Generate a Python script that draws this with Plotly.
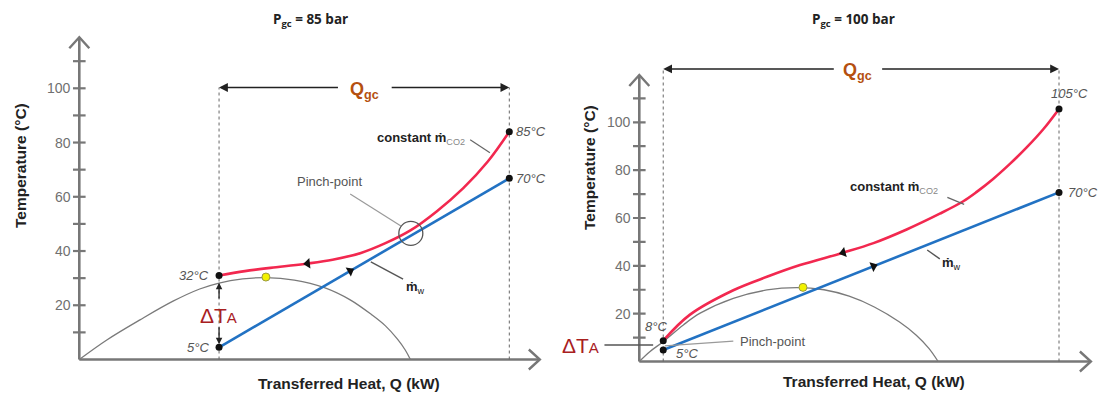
import plotly.graph_objects as go

# ---------------- data: left panel (P_gc = 85 bar) ----------------
L_TITLE = "P<sub>gc</sub> = 85 bar"
L_Q_IN, L_Q_OUT = 32.5, 100.0
L_CO2_Q = [32.5, 38.5, 46.7, 53.1, 58.9, 65.5, 71.2, 77.0, 83.1, 89.3, 95.0, 100.0]
L_CO2_T = [31.0, 32.6, 34.2, 35.4, 36.8, 39.3, 42.9, 47.6, 54.6, 63.2, 73.0, 84.0]
L_W_Q = [32.5, 100.0]
L_W_T = [4.5, 66.8]
L_DOME_Q = [0, 6.4, 14.1, 21.8, 28.0, 32.5, 38.0, 43.4, 50.0, 57.0, 63.0, 68.0, 71.2, 74.0, 75.8, 77.0]
L_DOME_T = [0, 7.2, 14.6, 21.5, 26.0, 28.2, 29.7, 30.2, 29.3, 26.5, 22.0, 16.5, 12.4, 7.5, 3.5, 0]
L_CRIT = (43.4, 30.4)
L_LABELS = ["32°C", "5°C", "85°C", "70°C"]
L_QGC_T = 100.3

# ---------------- data: right panel (P_gc = 100 bar) ----------------
R_TITLE = "P<sub>gc</sub> = 100 bar"
R_Q_IN, R_Q_OUT = 5.7, 100.0
R_CO2_Q = [5.7, 12.0, 22.4, 30.4, 38.3, 48.6, 55.8, 63.7, 71.6, 77.2, 80.4, 84.3, 88.3, 92.3, 96.3, 100.0]
R_CO2_T = [8.7, 19.5, 29.8, 35.4, 40.3, 45.5, 49.5, 55.2, 61.8, 67.0, 70.9, 76.3, 82.6, 89.5, 97.2, 105.6]
R_W_Q = [5.7, 100.0]
R_W_T = [4.8, 70.7]
R_DOME_Q = [0, 2.5, 5.7, 10.5, 14.5, 22.4, 30.4, 37.5, 44.0, 50.0, 56.0, 62.0, 66.0, 69.0, 71.2]
R_DOME_T = [0, 4.1, 8.3, 15.3, 20.2, 26.4, 29.9, 30.9, 30.0, 27.3, 22.8, 16.5, 11.0, 5.5, 0]
R_CRIT = (39.0, 31.0)
R_LABELS = ["8°C", "5°C", "105°C", "70°C"]
R_QGC_T = 122.3

TICKS = [10, 20, 30, 40, 50, 60, 70, 80, 90, 100, 110]
TICK_LABELS = [20, 40, 60, 80, 100]

# ---------------- styling / geometry ----------------
W, H = 1099, 394
RED = "#f2284f"
BLUE = "#2272c3"
AXC = "#777777"
FONT = "Liberation Sans"
SPLIT = 549.5

# pixel geometry of each panel: origin px, px per unit
GEOM = {
    "L": dict(x0=79.3, sx=4.30, y0=359.5, sy=2.712, d0=0.0, d1=SPLIT),
    "R": dict(x0=639.3, sx=4.197, y0=361.5, sy=2.392, d0=SPLIT, d1=W),
}

def ranges(g):
    xr = [(g["d0"] - g["x0"]) / g["sx"], (g["d1"] - g["x0"]) / g["sx"]]
    yr = [-(H - g["y0"]) / g["sy"], g["y0"] / g["sy"]]
    return xr, yr

fig = go.Figure()
annotations = []
shapes = []


def panel(key, xa, ya, title, q_in, q_out, co2_q, co2_t, w_q, w_t, dome_q, dome_t,
          crit, labels, qgc_t, opts):
    g = GEOM[key]
    dq = 1.0 / g["sx"]   # Q units per px
    dt = 1.0 / g["sy"]   # T units per px
    ax = dict(xaxis=xa, yaxis=ya)
    xr_ = "x" if xa == "x" else "x2"
    yr_ = "y" if ya == "y" else "y2"

    # axes lines
    ytip = opts["ytip"]
    xtip = opts["xtip"]
    fig.add_trace(go.Scatter(x=[0, 0], y=[0, ytip], mode="lines",
                             line=dict(color=AXC, width=2.6), hoverinfo="skip", **ax))
    fig.add_trace(go.Scatter(x=[0, xtip], y=[0, 0], mode="lines",
                             line=dict(color=AXC, width=2.6), hoverinfo="skip", **ax))
    # arrow chevrons
    fig.add_trace(go.Scatter(x=[-10 * dq, 0, 10 * dq], y=[ytip - 11 * dt, ytip, ytip - 11 * dt],
                             mode="lines", line=dict(color=AXC, width=2.4), hoverinfo="skip", **ax))
    fig.add_trace(go.Scatter(x=[xtip - 11 * dq, xtip, xtip - 11 * dq], y=[10 * dt, 0, -10 * dt],
                             mode="lines", line=dict(color=AXC, width=2.4), hoverinfo="skip", **ax))
    # ticks
    fig.add_trace(go.Scatter(x=[0] * len(TICKS), y=TICKS, mode="markers",
                             marker=dict(symbol="line-ew", size=9, line=dict(color=AXC, width=2.2)),
                             hoverinfo="skip", **ax))
    for v in TICK_LABELS:
        annotations.append(dict(x=-6 * dq, y=v, xref=xr_, yref=yr_, text=str(v), showarrow=False,
                                xanchor="right", yanchor="middle",
                                font=dict(family=FONT, size=14, color="#707070")))

    # dotted verticals (Q_gc limits)
    for qv in (q_in, q_out):
        fig.add_trace(go.Scatter(x=[qv, qv], y=[0, qgc_t], mode="lines",
                                 line=dict(color="#666", width=1, dash="dot"), hoverinfo="skip", **ax))

    # dome
    fig.add_trace(go.Scatter(x=dome_q, y=dome_t, mode="lines", line=dict(color="#7a7a7a", width=1.3, shape="spline"),
                             hoverinfo="skip", **ax))
    # water line
    fig.add_trace(go.Scatter(x=w_q, y=w_t, mode="lines", line=dict(color=BLUE, width=2.6),
                             hoverinfo="skip", **ax))
    # CO2 curve
    fig.add_trace(go.Scatter(x=co2_q, y=co2_t, mode="lines", line=dict(color=RED, width=2.6, shape="spline", smoothing=1.0),
                             hoverinfo="skip", **ax))
    # direction arrows
    fig.add_trace(go.Scatter(x=[opts["red_arrow"][0]], y=[opts["red_arrow"][1]], mode="markers",
                             marker=dict(symbol="triangle-left", size=9, color="#111", angle=opts["red_angle"]),
                             hoverinfo="skip", **ax))
    wa = opts["blue_arrow_q"]
    wt = w_t[0] + (w_t[1] - w_t[0]) * (wa - w_q[0]) / (w_q[1] - w_q[0])
    fig.add_trace(go.Scatter(x=[wa], y=[wt], mode="markers",
                             marker=dict(symbol="triangle-right", size=9, color="#111", angle=opts["blue_angle"]),
                             hoverinfo="skip", **ax))
    # critical point
    fig.add_trace(go.Scatter(x=[crit[0]], y=[crit[1]], mode="markers",
                             marker=dict(size=8, color="#f2f200", line=dict(color="#9a9a40", width=1)),
                             hoverinfo="skip", **ax))
    # end points
    fig.add_trace(go.Scatter(x=[co2_q[0], w_q[0], co2_q[-1], w_q[-1]],
                             y=[co2_t[0], w_t[0], co2_t[-1], w_t[-1]], mode="markers",
                             marker=dict(size=7, color="#111"), hoverinfo="skip", **ax))

    # title
    annotations.append(dict(x=opts["title_x"], y=1 - 20 / H, xref="paper", yref="paper", text="<b>" + title + "</b>",
                            showarrow=False, xanchor="center", yanchor="middle",
                            font=dict(family="Open Sans", size=13.5, color="#222")))
    # axis titles
    annotations.append(dict(x=opts["ytitle_px"][0] / W, y=1 - opts["ytitle_px"][1] / H, xref="paper", yref="paper",
                            text="<b>Temperature (°C)</b>", textangle=-90, showarrow=False,
                            xanchor="center", yanchor="middle",
                            font=dict(family=FONT, size=15.5, color="#222")))
    annotations.append(dict(x=opts["xtitle_px"][0] / W, y=1 - opts["xtitle_px"][1] / H, xref="paper", yref="paper",
                            text="<b>Transferred Heat, Q (kW)</b>", showarrow=False,
                            xanchor="center", yanchor="middle",
                            font=dict(family=FONT, size=15.5, color="#222")))

    # Q_gc arrows + label
    qc, gap = opts["qgc"]
    for tail, head in ((qc - gap, q_in), (qc + gap, q_out)):
        annotations.append(dict(x=head, y=qgc_t, ax=tail, ay=qgc_t, xref=xr_, yref=yr_, axref=xr_, ayref=yr_,
                                text="", showarrow=True, arrowhead=2, arrowsize=1.1, arrowwidth=1.6,
                                arrowcolor="#222"))
    annotations.append(dict(x=qc, y=qgc_t - 3 * dt, xref=xr_, yref=yr_, text="<b>Q<sub>gc</sub></b>",
                            showarrow=False, xanchor="center", yanchor="middle",
                            font=dict(family=FONT, size=18, color="#b5500f")))

    # temperature labels
    lab_font = dict(family=FONT, size=13, color="#555")
    for (txt, (lx, ly, anc)) in zip(labels, opts["label_pos"]):
        annotations.append(dict(x=lx, y=ly, xref=xr_, yref=yr_, text="<i>" + txt + "</i>", showarrow=False,
                                xanchor=anc, yanchor="middle", font=lab_font))

    # constant m_CO2 label + leader
    cx, cy = opts["co2_label"]
    annotations.append(dict(x=cx, y=cy, xref=xr_, yref=yr_,
                            text="<b>constant ṁ</b><sub><span style='color:#888'>CO2</span></sub>",
                            showarrow=False, xanchor="right", yanchor="middle",
                            font=dict(family=FONT, size=13, color="#222")))
    l0, l1 = opts["co2_leader"]
    fig.add_trace(go.Scatter(x=[l0[0], l1[0]], y=[l0[1], l1[1]], mode="lines",
                             line=dict(color="#666", width=1.2), hoverinfo="skip", **ax))
    # m_w label + leader
    mx, my = opts["w_label"]
    annotations.append(dict(x=mx, y=my, xref=xr_, yref=yr_, text="<b>ṁ</b><sub>w</sub>",
                            showarrow=False, xanchor="center", yanchor="middle",
                            font=dict(family=FONT, size=13, color="#222")))
    l0, l1 = opts["w_leader"]
    fig.add_trace(go.Scatter(x=[l0[0], l1[0]], y=[l0[1], l1[1]], mode="lines",
                             line=dict(color="#555", width=1.4), hoverinfo="skip", **ax))

    # pinch-point label + leader
    px_, py_, panc = opts["pinch_label"]
    annotations.append(dict(x=px_, y=py_, xref=xr_, yref=yr_, text="Pinch-point", showarrow=False,
                            xanchor=panc, yanchor="middle", font=dict(family=FONT, size=13, color="#555")))
    l0, l1 = opts["pinch_leader"]
    fig.add_trace(go.Scatter(x=[l0[0], l1[0]], y=[l0[1], l1[1]], mode="lines",
                             line=dict(color="#9a9a9a", width=1.2), hoverinfo="skip", **ax))

    # delta T_A label
    dx_, dy_, danc = opts["dta"]
    annotations.append(dict(x=dx_, y=dy_, xref=xr_, yref=yr_,
                            text="ΔT<span style='font-size:15px'>A</span>", showarrow=False,
                            xanchor=danc, yanchor="middle", font=dict(family=FONT, size=21, color="#a8201f")))


xrL, yrL = ranges(GEOM["L"])
xrR, yrR = ranges(GEOM["R"])

panel("L", "x", "y", L_TITLE, L_Q_IN, L_Q_OUT, L_CO2_Q, L_CO2_T, L_W_Q, L_W_T, L_DOME_Q, L_DOME_T,
      L_CRIT, L_LABELS, L_QGC_T,
      dict(ytip=118.8, xtip=107.1, red_arrow=(53.1, 35.4), red_angle=-6, blue_arrow_q=63.0, blue_angle=-30,
           title_x=310 / W, ytitle_px=(20, 166), xtitle_px=(349, 383), qgc=(66.4, 5.9),
           label_pos=[(30.6, 31.0, "right"), (30.6, 4.5, "right"), (101.2, 84.0, "left"), (101.2, 66.8, "left")],
           co2_label=(90.2, 81.6), co2_leader=((90.9, 81.0), (95.5, 76.2)),
           w_label=(78.3, 26.7), w_leader=((67.8, 36.0), (75.3, 29.6)),
           pinch_label=(58.1, 65.6, "center"), pinch_leader=((63.0, 61.0), (74.8, 49.2)),
           dta=(32.4, 16.4, "center")))

panel("R", "x2", "y2", R_TITLE, R_Q_IN, R_Q_OUT, R_CO2_Q, R_CO2_T, R_W_Q, R_W_T, R_DOME_Q, R_DOME_T,
      R_CRIT, R_LABELS, R_QGC_T,
      dict(ytip=119.8, xtip=107.6, red_arrow=(48.6, 45.5), red_angle=-15, blue_arrow_q=55.8, blue_angle=-22,
           title_x=853 / W, ytitle_px=(590, 168), xtitle_px=(874, 381), qgc=(52.1, 5.4),
           label_pos=[(4.0, 14.5, "center"), (11.3, 3.4, "center"), (102.4, 112.1, "center"), (101.7, 70.7, "left")],
           co2_label=(71.6, 72.8), co2_leader=((73.4, 68.6), (77.4, 65.7)),
           w_label=(74.4, 41.1), w_leader=((68.6, 46.6), (71.6, 42.9)),
           pinch_label=(23.6, 8.3, "left"), pinch_leader=((6.1, 6.5), (22.4, 8.5)),
           dta=(-14.1, 6.7, "center")))

# Delta T_A arrows (left panel)
for tail, head in ((21.9, 28.3), (12.4, 5.6)):
    annotations.append(dict(x=L_Q_IN, y=head, ax=L_Q_IN, ay=tail, xref="x", yref="y", axref="x", ayref="y",
                            text="", showarrow=True, arrowhead=2, arrowsize=1.0, arrowwidth=1.3, arrowcolor="#222"))
# Delta T_A leader (right panel)
fig.add_trace(go.Scatter(x=[-8.3, 3.3], y=[6.9, 6.9], mode="lines", line=dict(color="#555", width=1.3),
                         hoverinfo="skip", xaxis="x2", yaxis="y2"))

# pinch circle (left)
shapes.append(dict(type="circle", xref="x", yref="y", xsizemode="pixel", ysizemode="pixel",
                   xanchor=77.1, yanchor=46.5, x0=-12, x1=12, y0=-12, y1=12,
                   line=dict(color="#555", width=1.3)))

fig.update_layout(
    width=W, height=H, margin=dict(l=0, r=0, t=0, b=0),
    paper_bgcolor="white", plot_bgcolor="white", showlegend=False,
    xaxis=dict(domain=[0, SPLIT / W], range=xrL, visible=False, fixedrange=True),
    yaxis=dict(domain=[0, 1], range=yrL, visible=False, fixedrange=True),
    xaxis2=dict(domain=[SPLIT / W, 1], range=xrR, visible=False, fixedrange=True),
    yaxis2=dict(domain=[0, 1], range=yrR, visible=False, fixedrange=True, anchor="x2"),
    annotations=annotations, shapes=shapes,
)

fig.write_html("out.html")
